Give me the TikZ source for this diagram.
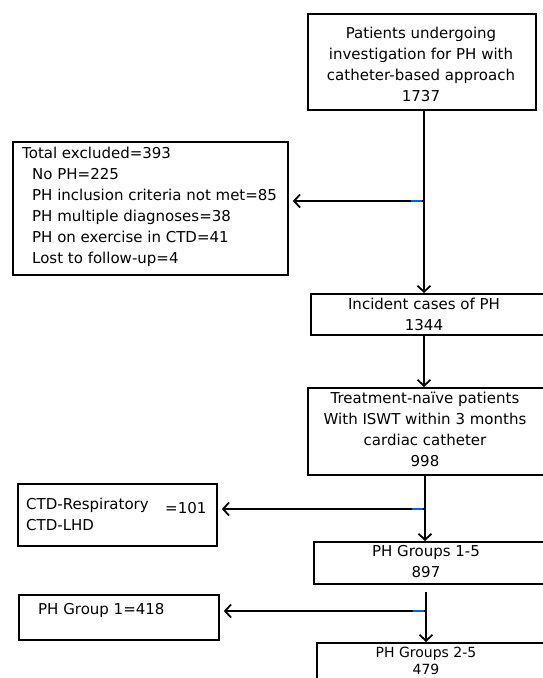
\documentclass[tikz,border=0pt]{standalone}
\usepackage{fontspec}
\setmainfont{DejaVu Sans}
\usetikzlibrary{arrows.meta}

\begin{document}
\begin{tikzpicture}[x=1pt, y=-1pt,
    frame/.style={draw, line width=1.8pt, inner sep=0pt, anchor=north west},
    txt/.style={inner sep=0pt, align=center, font=\fontsize{15}{21}\selectfont},
    ltxt/.style={inner sep=0pt, align=left, anchor=west, font=\fontsize{15}{21}\selectfont},
    flow/.style={line width=1.8pt, -{Straight Barb[length=6pt,width=13pt,line width=1.8pt]}},
    tick/.style={line width=1.8pt, draw=blue!55!cyan!85!black}]
    \useasboundingbox (0,0) rectangle (542,678);

    % Main column
    \node[frame, minimum width=228, minimum height=96] (patF) at (307,13) {};
    \node[txt] (pat) at (421,64)
        {Patients undergoing\\investigation for PH with\\catheter-based approach\\1737};

    \node[frame, minimum width=260, minimum height=41] (incF) at (310,293) {};
    \node[txt] (inc) at (424,314) {Incident cases of PH\\1344};

    \node[frame, minimum width=260, minimum height=87] (trtF) at (307,387) {};
    \node[txt] (trt) at (425,429) {Treatment-na\"ive patients\\With ISWT within 3 months\\cardiac catheter\\998};

    \node[frame, minimum width=260, minimum height=42] (grpaF) at (313,541) {};
    \node[txt] (grpa) at (426,562) {PH Groups 1-5\\897};

    \node[frame, minimum width=260, minimum height=60] (grpbF) at (316,642) {};
    \node[txt, font=\fontsize{14}{17}\selectfont] (grpb) at (426,661) {PH Groups 2-5\\479};

    % Exclusions (left)
    \node[frame, minimum width=275, minimum height=133] (exclF) at (12,141) {};
    \node[ltxt] (excl) at (22,207) {Total excluded=393\\
        \hspace*{10pt}No PH=225\\
        \hspace*{10pt}PH inclusion criteria not met=85\\
        \hspace*{10pt}PH multiple diagnoses=38\\
        \hspace*{10pt}PH on exercise in CTD=41\\
        \hspace*{10pt}Lost to follow-up=4};

    \node[frame, minimum width=199, minimum height=62] (ctdF) at (17,483) {};
    \node[ltxt] (ctd) at (26,514) {CTD-Respiratory\\CTD-LHD};
    \node[ltxt] (ctdn) at (165,508) {=101};

    \node[frame, minimum width=200, minimum height=45] (grpF) at (18,594) {};
    \node[ltxt] (grp) at (38,610) {PH Group 1=418};

    % Junctions
    \coordinate (j1) at (424,201);
    \coordinate (j2) at (425,509);
    \coordinate (j3) at (426,611);

    % Arrows
    \draw[flow] (patF.south -| j1) -- (incF.north -| j1);
    \draw[flow, shorten >=4pt] (j1) -- (exclF.east |- j1);
    \draw[tick] ([xshift=-2pt]j1) -- ++(-11,0);

    \draw[flow] (incF.south -| inc) -- (trtF.north -| inc);

    \draw[flow] (trtF.south -| j2) -- (grpaF.north -| j2);
    \draw[flow, shorten >=4pt] (j2) -- (ctdF.east |- j2);
    \draw[tick] ([xshift=-2pt]j2) -- ++(-11,0);

    \draw[flow, shorten <=7pt] (grpaF.south -| j3) -- (grpbF.north -| j3);
    \draw[flow, shorten >=4pt] (j3) -- (grpF.east |- j3);
    \draw[tick] ([xshift=-2pt]j3) -- ++(-11,0);
\end{tikzpicture}
\end{document}
